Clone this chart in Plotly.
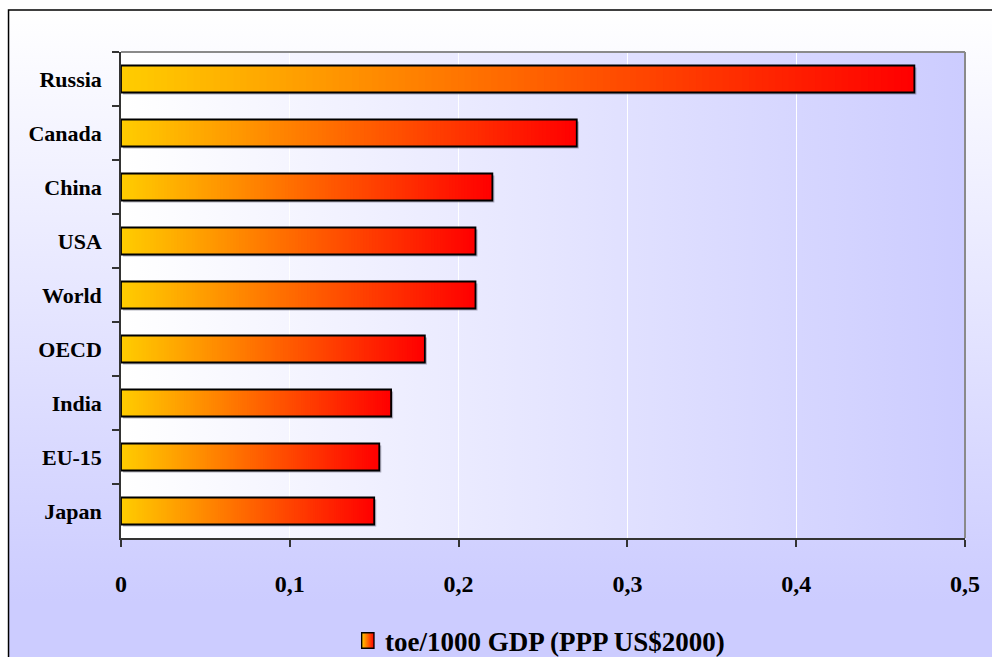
import base64
import plotly.graph_objects as go

# Energy intensity, toe per 1000 GDP (PPP US$2000)
countries = ["Russia", "Canada", "China", "USA", "World", "OECD", "India", "EU-15", "Japan"]
intensity = [0.47, 0.27, 0.22, 0.21, 0.21, 0.18, 0.16, 0.153, 0.15]
x_ticks = [0, 0.1, 0.2, 0.3, 0.4, 0.5]
series_name = "toe/1000 GDP (PPP US$2000)"

W, H = 992, 657
L, R, T, B = 121, 23, 52, 119
PW, PH = W - L - R, H - T - B

FONT = "Liberation Serif"
BAR_WIDTH = 0.5
N_SLICES = 120
C0 = (255, 204, 0)    # gradient start (yellow)
C1 = (255, 0, 0)      # gradient end (red)


def xp(px):
    return (px - L) / PW


def yp(py):
    return 1 - (py - T) / PH


def mix(t):
    r, g, b = (round(a + (b_ - a) * t) for a, b_ in zip(C0, C1))
    return f"rgb({r},{g},{b})"


def svg_gradient(c_from, c_to, vertical, stop_at=1.0):
    x2, y2 = ("0", "1") if vertical else ("1", "0")
    svg = (
        '<svg xmlns="http://www.w3.org/2000/svg" width="100" height="100" '
        'preserveAspectRatio="none">'
        f'<defs><linearGradient id="g" x1="0" y1="0" x2="{x2}" y2="{y2}">'
        f'<stop offset="0" stop-color="{c_from}"/>'
        f'<stop offset="{stop_at}" stop-color="{c_to}"/>'
        f'<stop offset="1" stop-color="{c_to}"/></linearGradient></defs>'
        '<rect width="100" height="100" fill="url(#g)"/></svg>'
    )
    return "data:image/svg+xml;base64," + base64.b64encode(svg.encode()).decode()


def legend_icon():
    svg = (
        '<svg xmlns="http://www.w3.org/2000/svg" width="14" height="17" '
        'preserveAspectRatio="none">'
        '<defs><linearGradient id="g" x1="0" y1="0" x2="1" y2="0">'
        '<stop offset="0" stop-color="#FFCC00"/><stop offset="1" stop-color="#FF0000"/>'
        '</linearGradient></defs>'
        '<rect x="0.75" y="0.75" width="12.5" height="15.5" fill="url(#g)" '
        'stroke="#000" stroke-width="1.5"/></svg>'
    )
    return "data:image/svg+xml;base64," + base64.b64encode(svg.encode()).decode()


fig = go.Figure()

# soft drop shadow under each bar
fig.add_trace(go.Bar(
    y=countries, x=intensity, orientation="h", width=BAR_WIDTH,
    offset=-BAR_WIDTH / 2 + 0.035, base=0.0012,
    marker=dict(color="rgba(90,90,110,0.45)", line=dict(width=0)),
    hoverinfo="skip", showlegend=False,
))

# gradient fill: each bar is built from overlapping slices running to its end
slice_y, slice_base, slice_len, slice_col = [], [], [], []
for name, v in zip(countries, intensity):
    for k in range(N_SLICES):
        start = v * k / N_SLICES
        slice_y.append(name)
        slice_base.append(start)
        slice_len.append(v - start)
        slice_col.append(mix(k / (N_SLICES - 1)))

fig.add_trace(go.Bar(
    y=slice_y, x=slice_len, base=slice_base, orientation="h", width=BAR_WIDTH,
    marker=dict(color=slice_col, line=dict(width=0)),
    hoverinfo="skip", showlegend=False,
))

# bar outlines
fig.add_trace(go.Bar(
    y=countries, x=intensity, orientation="h", width=BAR_WIDTH, name=series_name,
    marker=dict(color="rgba(0,0,0,0)", line=dict(color="#000000", width=1.8)),
    showlegend=False,
))

images = [
    # chart-area background: white at top fading to lavender at the bottom
    dict(source=svg_gradient("#FFFFFF", "#CCCCFF", True, 0.9),
         xref="paper", yref="paper", x=xp(8), y=yp(10),
         sizex=(W + 10 - 8) / PW, sizey=(H + 10 - 10) / PH,
         xanchor="left", yanchor="top", sizing="stretch", layer="below"),
    # plot-area background: white on the left to lavender on the right
    dict(source=svg_gradient("#FFFFFF", "#CCCCFF", False),
         xref="paper", yref="paper", x=0, y=1, sizex=1, sizey=1,
         xanchor="left", yanchor="top", sizing="stretch", layer="below"),
    # legend swatch
    dict(source=legend_icon(), xref="paper", yref="paper",
         x=xp(362), y=yp(632), sizex=14 / PW, sizey=17 / PH,
         xanchor="left", yanchor="top", sizing="stretch", layer="above"),
]

shapes = [
    # outer chart frame
    dict(type="rect", xref="paper", yref="paper",
         x0=xp(8), x1=xp(W + 10), y0=yp(10), y1=yp(H + 10),
         line=dict(color="#000000", width=1.5), fillcolor="rgba(0,0,0,0)"),
    # plot-area frame on top and right
    dict(type="line", xref="paper", yref="paper", x0=0, x1=1, y0=1, y1=1,
         line=dict(color="#8A8A8A", width=2)),
    dict(type="line", xref="paper", yref="paper", x0=1, x1=1, y0=0, y1=1,
         line=dict(color="#8A8A8A", width=2)),
]

fig.update_layout(
    width=W, height=H,
    margin=dict(l=L, r=R, t=T, b=B, pad=0),
    paper_bgcolor="#FFFFFF",
    plot_bgcolor="rgba(0,0,0,0)",
    barmode="overlay",
    separators=", ",
    showlegend=False,
    font=dict(family=FONT, color="#000000"),
    images=images,
    shapes=shapes,
    annotations=[dict(
        text=f"<b>{series_name}</b>", xref="paper", yref="paper",
        x=xp(384), y=yp(642), xanchor="left", yanchor="middle",
        showarrow=False, font=dict(family=FONT, size=27, color="#000000"),
    )],
    xaxis=dict(
        range=[0, 0.5], tickvals=x_ticks,
        showgrid=True, gridcolor="#FFFFFF", gridwidth=1,
        zeroline=False,
        showline=True, linecolor="#333333", linewidth=1.5,
        ticks="outside", ticklen=7, tickwidth=1.5, tickcolor="#333333",
        tickfont=dict(family=FONT, size=24, color="#000000", weight="bold"),
        ticklabelstandoff=16,
        fixedrange=True,
    ),
    yaxis=dict(
        autorange="reversed",
        showgrid=False, zeroline=False,
        showline=True, linecolor="#333333", linewidth=1.5,
        ticks="outside", ticklen=7, tickwidth=1.5, tickcolor="#333333",
        tickson="boundaries",
        tickfont=dict(family=FONT, size=22, color="#000000", weight="bold"),
        ticklabelstandoff=13,
        fixedrange=True,
    ),
)

fig.write_html("out.html", config={"displayModeBar": False})
